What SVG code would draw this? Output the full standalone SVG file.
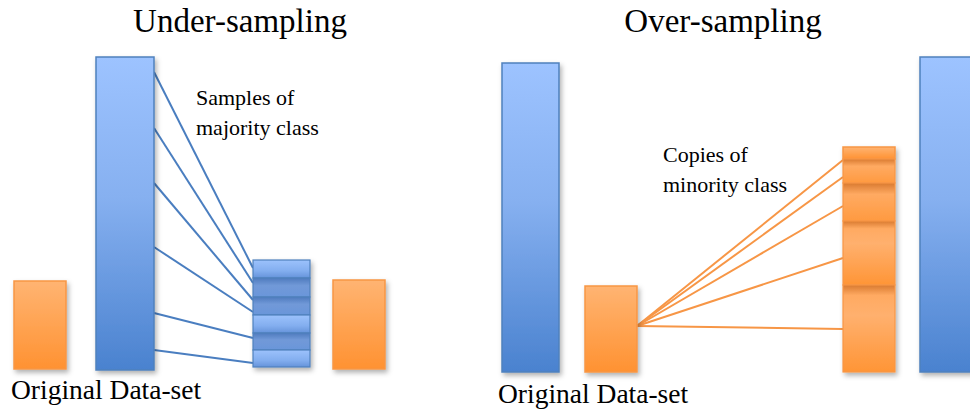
<svg xmlns="http://www.w3.org/2000/svg" width="970" height="415" viewBox="0 0 970 415">
  <defs>
    <linearGradient id="gBlue" x1="0" y1="0" x2="0" y2="1">
      <stop offset="0" stop-color="#9DC3FF"/>
      <stop offset="0.45" stop-color="#86B0F0"/>
      <stop offset="1" stop-color="#4A82CF"/>
    </linearGradient>
    <linearGradient id="gOrange" x1="0" y1="0" x2="0" y2="1">
      <stop offset="0" stop-color="#FFB472"/>
      <stop offset="1" stop-color="#FF9232"/>
    </linearGradient>
    <linearGradient id="gBlueSlice" x1="0" y1="0" x2="0" y2="1">
      <stop offset="0" stop-color="#9CC2FC"/>
      <stop offset="0.6" stop-color="#83AEEF"/>
      <stop offset="1" stop-color="#6593DA"/>
    </linearGradient>
    <linearGradient id="gBlueSliceDark" x1="0" y1="0" x2="0" y2="1">
      <stop offset="0" stop-color="#4F7BBE"/>
      <stop offset="0.4" stop-color="#7199D8"/>
      <stop offset="1" stop-color="#6A96DA"/>
    </linearGradient>
    <linearGradient id="gOrangeSliceS" x1="0" y1="0" x2="0" y2="1">
      <stop offset="0" stop-color="#D97A30"/>
      <stop offset="0.3" stop-color="#FFAA62"/>
      <stop offset="1" stop-color="#FF9A40"/>
    </linearGradient>
    <linearGradient id="gOrangeSliceL" x1="0" y1="0" x2="0" y2="1">
      <stop offset="0" stop-color="#D97A30"/>
      <stop offset="0.12" stop-color="#FFAA62"/>
      <stop offset="0.35" stop-color="#FFB06E"/>
      <stop offset="1" stop-color="#FF9536"/>
    </linearGradient>
    <filter id="sh" x="-20%" y="-10%" width="150%" height="130%">
      <feDropShadow dx="2" dy="3" stdDeviation="2.5" flood-color="#000" flood-opacity="0.3"/>
    </filter>
  </defs>
  <style>
    .blue { fill: url(#gBlue); stroke: #4F81BD; stroke-width: 1.5; }
    .orange { fill: url(#gOrange); stroke: #F79646; stroke-width: 1.5; }
    .bslice { fill: url(#gBlueSlice); stroke: #4F81BD; stroke-width: 1.2; }
    .bslice-d { fill: url(#gBlueSliceDark); stroke: #4F81BD; stroke-width: 1.2; }
    .oslice-s { fill: url(#gOrangeSliceS); stroke: #F79646; stroke-width: 1.2; }
    .oslice-l { fill: url(#gOrangeSliceL); stroke: #F79646; stroke-width: 1.2; }
    .bline { stroke: #4A7EC0; stroke-width: 2; fill: none; }
    .oline { stroke: #F79646; stroke-width: 2; fill: none; }
    text { font-family: 'Liberation Serif', 'Times New Roman', serif; fill: #000; }
  </style>

  <rect width="970" height="415" fill="#FFFFFF"/>

  <!-- Titles -->
  <text x="240" y="32" font-size="33" text-anchor="middle">Under-sampling</text>
  <text x="723" y="32" font-size="33" text-anchor="middle">Over-sampling</text>

  <!-- Connectors -->
  <g id="connectors">
    <line class="bline" x1="154" y1="72" x2="253" y2="268"/>
    <line class="bline" x1="154" y1="128" x2="253" y2="283"/>
    <line class="bline" x1="154" y1="183" x2="253" y2="300"/>
    <line class="bline" x1="154" y1="247" x2="253" y2="312"/>
    <line class="bline" x1="154" y1="313" x2="253" y2="338"/>
    <line class="bline" x1="154" y1="350" x2="253" y2="363"/>

    <line class="oline" x1="637" y1="326" x2="843" y2="160"/>
    <line class="oline" x1="637" y1="326" x2="843" y2="177"/>
    <line class="oline" x1="637" y1="326" x2="843" y2="206"/>
    <line class="oline" x1="637" y1="326" x2="843" y2="258"/>
    <line class="oline" x1="637" y1="326" x2="843" y2="329"/>
  </g>

  <!-- Under-sampling side -->
  <g id="under-minority">
    <rect class="orange" x="14" y="281" width="52" height="88" filter="url(#sh)"/>
  </g>
  <g id="under-majority">
    <rect class="blue" x="96" y="57" width="58" height="313" filter="url(#sh)"/>
  </g>
  <g id="under-samples" filter="url(#sh)">
    <rect class="bslice" x="253" y="260" width="57" height="18"/>
    <rect class="bslice-d" x="253" y="278" width="57" height="19"/>
    <rect class="bslice-d" x="253" y="297" width="57" height="18"/>
    <rect class="bslice" x="253" y="315" width="57" height="18"/>
    <rect class="bslice-d" x="253" y="333" width="57" height="17"/>
    <rect class="bslice" x="253" y="350" width="57" height="17"/>
  </g>
  <g id="under-minority-result">
    <rect class="orange" x="333" y="280" width="52" height="89" filter="url(#sh)"/>
  </g>
  <g id="under-label">
    <text x="196" y="105" font-size="22">Samples of</text>
    <text x="196" y="135" font-size="22">majority class</text>
  </g>
  <g id="under-caption">
    <text x="11" y="399" font-size="27.5">Original Data-set</text>
  </g>

  <!-- Over-sampling side -->
  <g id="over-majority">
    <rect class="blue" x="502" y="63" width="57" height="309" filter="url(#sh)"/>
  </g>
  <g id="over-minority">
    <rect class="orange" x="585" y="286" width="52" height="86" filter="url(#sh)"/>
  </g>
  <g id="over-copies" filter="url(#sh)">
    <rect class="orange" x="843" y="147" width="52" height="12"/>
    <rect class="oslice-s" x="843" y="159" width="52" height="24"/>
    <rect class="oslice-s" x="843" y="183" width="52" height="38"/>
    <rect class="oslice-l" x="843" y="221" width="52" height="64"/>
    <rect class="oslice-l" x="843" y="285" width="52" height="87"/>
  </g>
  <g id="over-majority-result">
    <rect class="blue" x="920" y="57" width="58" height="315" filter="url(#sh)"/>
  </g>
  <g id="over-label">
    <text x="663" y="162" font-size="22">Copies of</text>
    <text x="663" y="192" font-size="22">minority class</text>
  </g>
  <g id="over-caption">
    <text x="498" y="403" font-size="27.5">Original Data-set</text>
  </g>
</svg>
